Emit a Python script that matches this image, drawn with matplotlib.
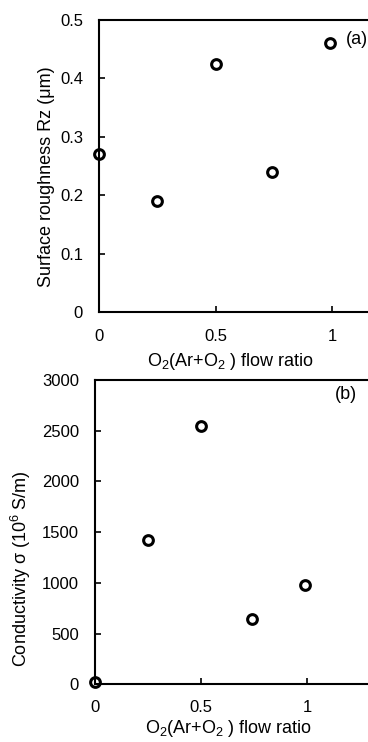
import matplotlib
matplotlib.use("Agg")
import matplotlib.pyplot as plt

plt.rcParams['font.family'] = ['Liberation Sans', 'DejaVu Sans']
plt.rcParams['mathtext.fontset'] = 'custom'
plt.rcParams['mathtext.rm'] = 'Liberation Sans'
plt.rcParams['mathtext.it'] = 'Liberation Sans:italic'
plt.rcParams['mathtext.default'] = 'regular'

# Data
flow_ratio_a = [0.0, 0.25, 0.5, 0.74, 0.99]
roughness_rz = [0.27, 0.19, 0.425, 0.24, 0.46]
flow_ratio_b = [0.0, 0.25, 0.5, 0.74, 0.99]
conductivity = [25, 1420, 2545, 645, 975]

x_ticks = [0, 0.5, 1]
x_tick_labels = ["0", "0.5", "1"]
y_ticks_a = [0, 0.1, 0.2, 0.3, 0.4, 0.5]
y_tick_labels_a = ["0", "0.1", "0.2", "0.3", "0.4", "0.5"]
y_ticks_b = [0, 500, 1000, 1500, 2000, 2500, 3000]

fig = plt.figure(figsize=(3.68, 7.42), dpi=100)

fs_tick = 12
fs_lab = 13

def style(ax, xpad):
    ax.spines['right'].set_visible(False)
    for s in ['left', 'bottom', 'top']:
        ax.spines[s].set_linewidth(1.5)
    ax.tick_params(direction='in', length=4, width=1.2, labelsize=fs_tick)
    ax.tick_params(axis='x', pad=xpad)
    ax.tick_params(axis='y', pad=11.5)

mk = dict(linestyle='none', marker='o', markersize=7, markerfacecolor='white',
          markeredgecolor='black', markeredgewidth=2.2, clip_on=False)

# Top panel (a)
ax1 = fig.add_axes([99/368, (742-312)/742, 350/368, 292/742])
ax1.plot(flow_ratio_a, roughness_rz, **mk)
ax1.set_xlim(0, 1.5)
ax1.set_ylim(0, 0.5)
ax1.set_xticks(x_ticks)
ax1.set_xticklabels(x_tick_labels)
ax1.set_yticks(y_ticks_a)
ax1.set_yticklabels(y_tick_labels_a)
style(ax1, 12)
ax1.set_ylabel("Surface roughness Rz (μm)", fontsize=fs_lab)
ax1.set_xlabel("O$_2$(Ar+O$_2$ ) flow ratio", fontsize=fs_lab)
ax1.yaxis.set_label_coords(-0.126, 0.464)
ax1.xaxis.set_label_coords(0.377, -0.134)
ax1.text(1.056, 0.466, "(a)", fontsize=fs_lab, ha='left', va='center')

# Bottom panel (b)
ax2 = fig.add_axes([95/368, (742-684.3)/742, 318/368, 304.3/742])
ax2.plot(flow_ratio_b, conductivity, **mk)
ax2.set_xlim(0, 1.5)
ax2.set_ylim(0, 3000)
ax2.set_xticks(x_ticks)
ax2.set_xticklabels(x_tick_labels)
ax2.set_yticks(y_ticks_b)
style(ax2, 11)
ax2.set_ylabel("Conductivity σ (10$^{6}$ S/m)", fontsize=fs_lab)
ax2.set_xlabel("O$_2$(Ar+O$_2$ ) flow ratio", fontsize=fs_lab)
ax2.yaxis.set_label_coords(-0.195, 0.379)
ax2.xaxis.set_label_coords(0.421, -0.111)
ax2.text(1.132, 2855, "(b)", fontsize=fs_lab, ha='left', va='center')

fig.savefig("out.png", dpi=100)
